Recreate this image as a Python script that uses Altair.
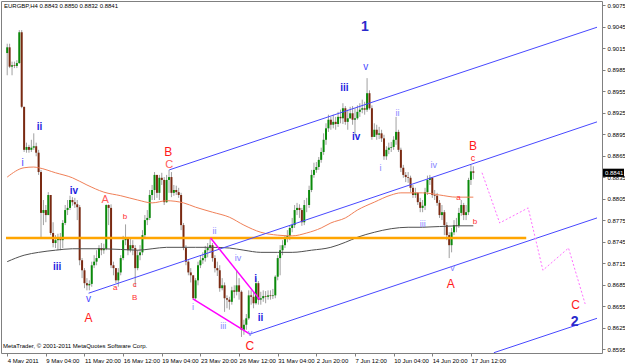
import json
import altair as alt
import pandas as pd

# ---------------- data (EURGBP H4) ----------------
first_open = 0.9008
closes = [
    0.9016, 0.8989, 0.8991, 0.8990, 0.8994, 0.9037, 0.8933, 0.8873, 0.8877, 0.8873,
    0.8876, 0.8878, 0.8869, 0.8842, 0.8785, 0.8789, 0.8782, 0.8810, 0.8757, 0.8743,
    0.8747, 0.8751, 0.8747, 0.8771, 0.8789, 0.8792, 0.8803, 0.8800, 0.8797, 0.8793,
    0.8719, 0.8705, 0.8687, 0.8684, 0.8686, 0.8712, 0.8717, 0.8722, 0.8736, 0.8733,
    0.8735, 0.8796, 0.8792, 0.8712, 0.8708, 0.8691, 0.8702, 0.8722, 0.8747, 0.8751,
    0.8733, 0.8740, 0.8736, 0.8708, 0.8726, 0.8730, 0.8754, 0.8775, 0.8778, 0.8810,
    0.8817, 0.8838, 0.8813, 0.8834, 0.8831, 0.8800, 0.8831, 0.8835, 0.8813, 0.8817,
    0.8814, 0.8810, 0.8768, 0.8736, 0.8717, 0.8702, 0.8698, 0.8666, 0.8691, 0.8712,
    0.8719, 0.8722, 0.8733, 0.8736, 0.8740, 0.8722, 0.8708, 0.8705, 0.8680, 0.8684,
    0.8666, 0.8664, 0.8661, 0.8677, 0.8675, 0.8684, 0.8675, 0.8622, 0.8629, 0.8638,
    0.8670, 0.8668, 0.8659, 0.8687, 0.8664, 0.8666, 0.8669, 0.8668, 0.8670, 0.8669,
    0.8670, 0.8696, 0.8722, 0.8733, 0.8740, 0.8750, 0.8753, 0.8764, 0.8768, 0.8789,
    0.8792, 0.8789, 0.8772, 0.8796, 0.8796, 0.8817, 0.8838, 0.8845, 0.8849, 0.8859,
    0.8870, 0.8887, 0.8903, 0.8915, 0.8908, 0.8912, 0.8909, 0.8919, 0.8917, 0.8931,
    0.8912, 0.8917, 0.8924, 0.8915, 0.8917, 0.8926, 0.8929, 0.8931, 0.8929, 0.8952,
    0.8931, 0.8891, 0.8901, 0.8894, 0.8896, 0.8889, 0.8864, 0.8873, 0.8876, 0.8877,
    0.8887, 0.8898, 0.8873, 0.8848, 0.8838, 0.8835, 0.8834, 0.8820, 0.8810, 0.8813,
    0.8800, 0.8792, 0.8795, 0.8814, 0.8831, 0.8834, 0.8810, 0.8809, 0.8799, 0.8782,
    0.8786, 0.8768, 0.8754, 0.8740, 0.8758, 0.8768, 0.8767, 0.8785, 0.8796, 0.8782,
    0.8786, 0.8831, 0.8843, 0.8841,
]
highs = [
    0.9021, 0.9021, 0.8996, 0.8996, 0.8998, 0.9040, 0.9040, 0.8933, 0.8883, 0.8880,
    0.8887, 0.8896, 0.8883, 0.8873, 0.8845, 0.8803, 0.8796, 0.8814, 0.8810, 0.8772,
    0.8754, 0.8756, 0.8757, 0.8775, 0.8796, 0.8803, 0.8809, 0.8807, 0.8806, 0.8803,
    0.8796, 0.8722, 0.8708, 0.8694, 0.8691, 0.8717, 0.8726, 0.8733, 0.8740, 0.8743,
    0.8742, 0.8797, 0.8797, 0.8797, 0.8717, 0.8708, 0.8708, 0.8726, 0.8753, 0.8769,
    0.8751, 0.8750, 0.8747, 0.8740, 0.8733, 0.8740, 0.8761, 0.8782, 0.8789, 0.8817,
    0.8824, 0.8842, 0.8838, 0.8838, 0.8841, 0.8835, 0.8838, 0.8845, 0.8842, 0.8824,
    0.8823, 0.8820, 0.8813, 0.8771, 0.8740, 0.8719, 0.8708, 0.8698, 0.8694, 0.8717,
    0.8726, 0.8730, 0.8739, 0.8743, 0.8749, 0.8743, 0.8726, 0.8717, 0.8712, 0.8694,
    0.8688, 0.8670, 0.8668, 0.8682, 0.8684, 0.8705, 0.8694, 0.8677, 0.8636, 0.8644,
    0.8677, 0.8677, 0.8675, 0.8694, 0.8690, 0.8675, 0.8677, 0.8676, 0.8677, 0.8677,
    0.8679, 0.8698, 0.8726, 0.8740, 0.8747, 0.8754, 0.8761, 0.8768, 0.8778, 0.8796,
    0.8799, 0.8797, 0.8792, 0.8803, 0.8806, 0.8823, 0.8845, 0.8855, 0.8856, 0.8863,
    0.8876, 0.8896, 0.8910, 0.8922, 0.8919, 0.8922, 0.8919, 0.8926, 0.8929, 0.8938,
    0.8934, 0.8929, 0.8933, 0.8934, 0.8931, 0.8935, 0.8938, 0.8943, 0.8940, 0.8973,
    0.8956, 0.8935, 0.8910, 0.8908, 0.8905, 0.8901, 0.8894, 0.8878, 0.8883, 0.8884,
    0.8892, 0.8919, 0.8901, 0.8876, 0.8852, 0.8842, 0.8842, 0.8837, 0.8824, 0.8820,
    0.8814, 0.8806, 0.8803, 0.8820, 0.8837, 0.8838, 0.8835, 0.8817, 0.8813, 0.8803,
    0.8796, 0.8789, 0.8772, 0.8758, 0.8764, 0.8775, 0.8778, 0.8792, 0.8803, 0.8799,
    0.8796, 0.8834, 0.8852, 0.8850,
]
lows = [
    0.8977, 0.8987, 0.8977, 0.8987, 0.8987, 0.8993, 0.8931, 0.8870, 0.8869, 0.8869,
    0.8870, 0.8873, 0.8864, 0.8838, 0.8751, 0.8768, 0.8772, 0.8782, 0.8754, 0.8737,
    0.8736, 0.8733, 0.8733, 0.8736, 0.8768, 0.8782, 0.8789, 0.8795, 0.8792, 0.8775,
    0.8712, 0.8694, 0.8680, 0.8677, 0.8677, 0.8682, 0.8708, 0.8712, 0.8722, 0.8726,
    0.8728, 0.8733, 0.8768, 0.8708, 0.8698, 0.8687, 0.8682, 0.8698, 0.8719, 0.8740,
    0.8726, 0.8730, 0.8726, 0.8682, 0.8705, 0.8719, 0.8726, 0.8750, 0.8768, 0.8775,
    0.8803, 0.8803, 0.8806, 0.8803, 0.8824, 0.8796, 0.8799, 0.8813, 0.8807, 0.8809,
    0.8810, 0.8806, 0.8761, 0.8733, 0.8712, 0.8698, 0.8688, 0.8664, 0.8664, 0.8684,
    0.8708, 0.8714, 0.8717, 0.8723, 0.8730, 0.8717, 0.8702, 0.8697, 0.8675, 0.8677,
    0.8647, 0.8652, 0.8650, 0.8657, 0.8666, 0.8670, 0.8664, 0.8612, 0.8615, 0.8622,
    0.8636, 0.8657, 0.8652, 0.8657, 0.8657, 0.8657, 0.8661, 0.8659, 0.8664, 0.8664,
    0.8665, 0.8666, 0.8691, 0.8698, 0.8726, 0.8736, 0.8744, 0.8747, 0.8758, 0.8764,
    0.8782, 0.8778, 0.8767, 0.8768, 0.8786, 0.8792, 0.8814, 0.8834, 0.8841, 0.8845,
    0.8855, 0.8866, 0.8880, 0.8898, 0.8901, 0.8903, 0.8901, 0.8905, 0.8910, 0.8909,
    0.8908, 0.8901, 0.8916, 0.8908, 0.8894, 0.8915, 0.8919, 0.8924, 0.8922, 0.8926,
    0.8929, 0.8887, 0.8891, 0.8887, 0.8888, 0.8884, 0.8859, 0.8859, 0.8867, 0.8870,
    0.8873, 0.8880, 0.8870, 0.8842, 0.8834, 0.8828, 0.8827, 0.8814, 0.8806, 0.8806,
    0.8796, 0.8786, 0.8786, 0.8789, 0.8810, 0.8824, 0.8806, 0.8803, 0.8795, 0.8778,
    0.8775, 0.8754, 0.8747, 0.8722, 0.8730, 0.8754, 0.8758, 0.8764, 0.8781, 0.8775,
    0.8775, 0.8782, 0.8824, 0.8832,
]

time_labels = ["4 May 2011", "9 May 04:00", "11 May 20:00", "16 May 12:00", "19 May 04:00",
               "23 May 20:00", "26 May 12:00", "31 May 04:00", "2 Jun 20:00", "7 Jun 12:00",
               "10 Jun 04:00", "14 Jun 20:00", "17 Jun 12:00"]
time_label_bars = [0, 16, 32, 48, 64, 80, 96, 112, 128, 144, 160, 176, 192]
price_ticks = [0.9075, 0.9045, 0.9015, 0.8985, 0.8955, 0.8925, 0.8895, 0.8865, 0.8835,
               0.8805, 0.8775, 0.8745, 0.8715, 0.8685, 0.8655, 0.8625, 0.8595]

# moving averages (bar index, price)
ma_fast_bar = [0, 7, 11, 13, 20, 27, 33, 40, 47, 54, 60, 66, 73, 78, 85, 92, 98, 105, 112,
               118, 124, 130, 134, 140, 145, 152, 159, 163, 172, 179, 186, 193]
ma_fast = [0.8835, 0.8848, 0.8849, 0.8848, 0.8841, 0.8834, 0.8824, 0.8814, 0.8809, 0.8803,
           0.8799, 0.8802, 0.8799, 0.8793, 0.8786, 0.8779, 0.8768, 0.8758, 0.8754, 0.8753,
           0.8757, 0.8764, 0.8771, 0.8778, 0.8789, 0.8800, 0.8810, 0.8813, 0.8813, 0.8810,
           0.8807, 0.8807]
ma_slow_bar = [0, 7, 13, 20, 27, 40, 54, 60, 66, 78, 85, 92, 98, 105, 112, 118, 126, 134,
               140, 145, 152, 159, 166, 172, 186, 193]
ma_slow = [0.8717, 0.8726, 0.8730, 0.8733, 0.8735, 0.8735, 0.8733, 0.8735, 0.8737, 0.8737,
           0.8737, 0.8736, 0.8733, 0.8730, 0.8730, 0.8730, 0.8733, 0.8737, 0.8744, 0.8751,
           0.8758, 0.8763, 0.8765, 0.8765, 0.8767, 0.8767]

support_level = 0.8750
support_end_bar = 214.9

# channel lines: start bar, start price, end bar, end price
chan_b1 = [67.1, 33.7, 100.5, 201.5]
chan_p1 = [0.8845, 0.8673, 0.8616, 0.8590]
chan_b2 = [244.2, 244.2, 244.2, 244.2]
chan_p2 = [0.9044, 0.8912, 0.8778, 0.8638]

# magenta diagonal lines
mag_b1 = [84.2, 76.9]
mag_p1 = [0.8750, 0.8665]
mag_b2 = [104.6, 100.5]
mag_p2 = [0.8664, 0.8616]

# projected path (dotted)
proj_bar = [196.6, 203.9, 215.7, 221.8, 232.4, 239.3]
proj_price = [0.8841, 0.8771, 0.8792, 0.8705, 0.8736, 0.8658]

# wave labels: text, bar, price, style
labels = [
    ("i", 6.4, 0.8855, "mid"), ("ii", 13.4, 0.8905, "dark"), ("iii", 20.7, 0.8710, "dark"),
    ("iv", 27.6, 0.8816, "dark"), ("v", 33.7, 0.8665, "mid"), ("A", 33.7, 0.8639, "red"),
    ("A", 40.6, 0.8803, "lred"), ("b", 48.8, 0.8779, "rsmall"), ("a", 44.7, 0.8680, "rsmall"),
    ("c", 52.8, 0.8684, "rsmall"), ("B", 52.8, 0.8667, "rsmall"),
    ("B", 66.7, 0.8870, "red"), ("C", 67.1, 0.8852, "lred"),
    ("i", 76.9, 0.8654, "lav"), ("ii", 85.8, 0.8760, "lav"), ("iv", 95.6, 0.8722, "lav"),
    ("iii", 89.5, 0.8627, "lav"), ("v", 100.5, 0.8617, "lav"), ("C", 100.5, 0.8599, "red"),
    ("i", 102.9, 0.8693, "dark"), ("ii", 104.9, 0.8638, "dark"),
    ("iii", 139.6, 0.8959, "dark"), ("iv", 144.5, 0.8891, "dark"), ("v", 148.5, 0.8989, "mid"),
    ("1", 148.1, 0.9044, "big"),
    ("ii", 161.6, 0.8924, "lav"), ("i", 154.6, 0.8848, "lav"), ("iv", 176.6, 0.8852, "lav"),
    ("iii", 172.1, 0.8770, "lav"), ("v", 184.4, 0.8708, "lav"), ("A", 183.6, 0.8686, "red"),
    ("B", 192.9, 0.8879, "red"), ("c", 192.9, 0.8861, "rmid"), ("a", 186.8, 0.8806, "rsmall"),
    ("b", 193.7, 0.8772, "rsmall"), ("C", 235.3, 0.8656, "red"), ("2", 234.9, 0.8633, "big"),
]
title_text = "EURGBP,H4  0.8843 0.8850 0.8832 0.8841"
copyright_text = "MetaTrader, \u00a9 2001-2011 MetaQuotes Software Corp."

# ---------------- build ----------------
W, H = 601, 352
FONT = "Liberation Sans"
opens = [first_open] + closes[:-1]
df = pd.DataFrame({"bar": list(range(len(closes))), "open": opens, "high": highs,
                   "low": lows, "close": closes})
df["dir"] = ["up" if c >= o else "down" for o, c in zip(opens, closes)]

xs = alt.Scale(domain=[-0.5, 244.2], nice=False, zero=False)
ys = alt.Scale(domain=[0.85896, 0.90806], nice=False, zero=False)

label_expr = json.dumps(time_labels) + "[round(datum.value/16)]"
x_axis = alt.Axis(values=time_label_bars, labelExpr=label_expr, grid=False, domain=False,
                  tickSize=3, tickColor="#808080", labelFontSize=6, labelFont=FONT,
                  labelAlign="left", labelPadding=1, labelColor="#000000", title=None,
                  labelFlush=False, labelOverlap=False)
y_axis = alt.Axis(values=price_ticks, format=".4f", orient="right", grid=False, domain=False,
                  tickSize=3, tickColor="#808080", labelFontSize=6, labelFont=FONT,
                  labelPadding=2, labelColor="#000000", title=None, labelFlush=False,
                  labelOverlap=False)


def X(field):
    return alt.X(field, scale=xs, axis=x_axis)


def Y(field):
    return alt.Y(field, scale=ys, axis=y_axis)


wicks = alt.Chart(df).mark_rule(color="#A0A0A0", strokeWidth=1).encode(
    x=X("bar:Q"), y=Y("low:Q"), y2="high:Q")
bodies = alt.Chart(df).mark_bar(size=2).encode(
    x=X("bar:Q"), y=Y("open:Q"), y2="close:Q",
    color=alt.Color("dir:N", scale=alt.Scale(domain=["up", "down"], range=["#0A8A0A", "#7A2A12"]),
                    legend=None),
)

fast_df = pd.DataFrame({"bar": ma_fast_bar, "price": ma_fast})
slow_df = pd.DataFrame({"bar": ma_slow_bar, "price": ma_slow})
ma_fast_line = alt.Chart(fast_df).mark_line(color="#F08058", strokeWidth=1, interpolate="monotone").encode(
    x=X("bar:Q"), y=Y("price:Q"))
ma_slow_line = alt.Chart(slow_df).mark_line(color="#505050", strokeWidth=1, interpolate="monotone").encode(
    x=X("bar:Q"), y=Y("price:Q"))

sup_df = pd.DataFrame({"b1": [-0.5], "b2": [support_end_bar], "p": [support_level]})
support = alt.Chart(sup_df).mark_rule(color="#FFA500", strokeWidth=2.5).encode(
    x=X("b1:Q"), x2="b2:Q", y=Y("p:Q"))

chan_df = pd.DataFrame({"b1": chan_b1, "p1": chan_p1, "b2": chan_b2, "p2": chan_p2})
channels = alt.Chart(chan_df).mark_rule(color="#4848FF", strokeWidth=1, clip=True).encode(
    x=X("b1:Q"), x2="b2:Q", y=Y("p1:Q"), y2="p2:Q")

mag_df = pd.DataFrame({"b1": mag_b1, "p1": mag_p1, "b2": mag_b2, "p2": mag_p2})
magenta = alt.Chart(mag_df).mark_rule(color="#FF00FF", strokeWidth=1.5).encode(
    x=X("b1:Q"), x2="b2:Q", y=Y("p1:Q"), y2="p2:Q")

proj_df = pd.DataFrame({"bar": proj_bar, "price": proj_price, "o": list(range(len(proj_bar)))})
proj = alt.Chart(proj_df).mark_line(color="#FF70FF", strokeWidth=1, strokeDash=[2, 2]).encode(
    x=X("bar:Q"), y=Y("price:Q"), order="o:Q")

styles = {
    "dark": ("#1C1CE0", 10, "bold"),
    "mid": ("#4646FF", 10, "normal"),
    "lav": ("#8484FF", 9, "normal"),
    "red": ("#FF1A1A", 12, "normal"),
    "lred": ("#FF5A5A", 11, "normal"),
    "rsmall": ("#FF3030", 8, "normal"),
    "rmid": ("#FF2020", 9, "normal"),
    "big": ("#2A2ACC", 14, "bold"),
}
lab_df = pd.DataFrame(labels, columns=["text", "bar", "price", "style"])
lab_df["color"] = [styles[s][0] for s in lab_df["style"]]
lab_df["size"] = [styles[s][1] for s in lab_df["style"]]
lab_df["weight"] = [styles[s][2] for s in lab_df["style"]]


def label_layer(weight):
    d = lab_df[lab_df["weight"] == weight]
    return alt.Chart(d).mark_text(font=FONT, fontWeight=weight, baseline="middle", align="center").encode(
        x=X("bar:Q"), y=Y("price:Q"),
        text="text:N", color=alt.Color("color:N", scale=None),
        size=alt.Size("size:Q", scale=None))


title = alt.Chart(pd.DataFrame({"t": [title_text]})).mark_text(
    font=FONT, fontSize=6, align="left", baseline="middle", color="#000000").encode(
    x=alt.value(3), y=alt.value(5), text="t:N")
copyright = alt.Chart(pd.DataFrame({"t": [copyright_text]})).mark_text(
    font=FONT, fontSize=6, align="left", baseline="middle", color="#000000").encode(
    x=alt.value(2), y=alt.value(345), text="t:N")

last_df = pd.DataFrame({"p": [closes[-1]], "t": ["%.4f" % closes[-1]]})
box = alt.Chart(last_df).transform_calculate(
    top="datum.p + 0.00057", bot="datum.p - 0.00057").mark_rect(color="#000000", clip=False).encode(
    x=alt.value(W + 1), x2=alt.value(W + 22),
    y=Y("top:Q"), y2="bot:Q")
box_text = alt.Chart(last_df).mark_text(font=FONT, fontSize=6, align="left", baseline="middle",
                                        color="#FFFFFF", clip=False).encode(
    x=alt.value(W + 3), y=Y("p:Q"), text="t:N")

chart = alt.layer(
    wicks, bodies, ma_fast_line, ma_slow_line, support, channels, magenta, proj,
    label_layer("normal"), label_layer("bold"), title, copyright, box, box_text,
).properties(
    width=W, height=H,
    autosize=alt.AutoSizeParams(type="none"),
    padding={"left": 1, "top": 1, "right": 23, "bottom": 10},
    background="#FFFFFF",
).configure_view(stroke="#808080", strokeWidth=1)

chart.save("out.html", embed_options={"renderer": "svg", "actions": False})
